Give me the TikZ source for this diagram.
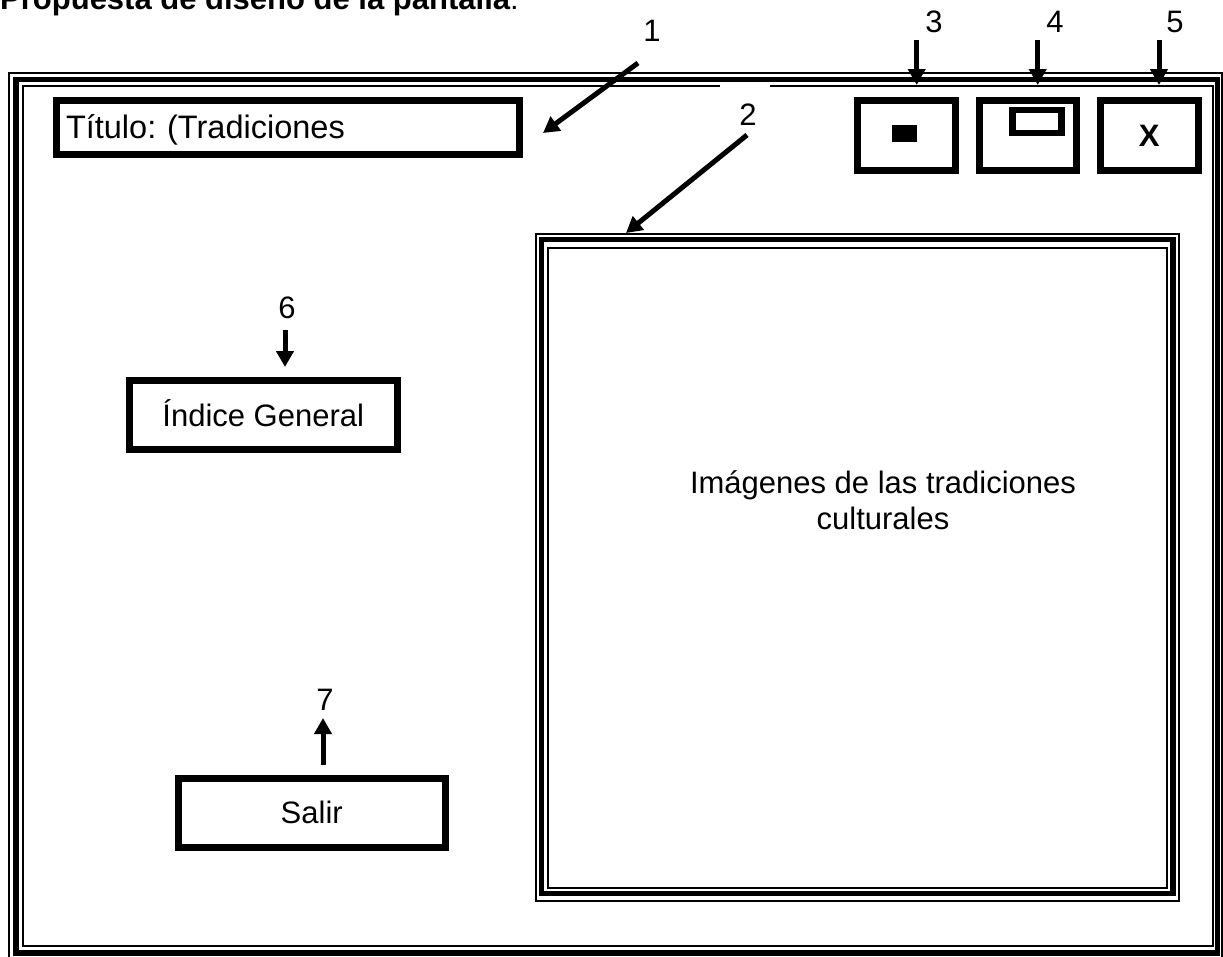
\documentclass[tikz,border=0pt]{standalone}
\usepackage{fontspec}
\setmainfont{Liberation Sans}
\usetikzlibrary{arrows.meta}
\frenchspacing
\begin{document}
\begin{tikzpicture}[x=1pt,y=-1pt,
  every node/.style={font=\fontsize{31}{35.6}\selectfont, inner sep=0pt},
  thinline/.style={line width=2pt},
  thickline/.style={line width=5.5pt},
  btn/.style={draw, rectangle, line width=7pt, text height=22pt, text depth=0pt},
  pointer/.style={line width=5pt, -{Triangle[length=16pt,width=17pt]}},
  lbl/.style={anchor=base}]
\useasboundingbox (0,0) rectangle (1223,956);
\clip (0,0) rectangle (1223,956);
\fill[white] (0,0) rectangle (1223,956);

% heading above the window
\node[anchor=base west] (heading) at (0,9.5) {\bfseries Propuesta de diseño de la pantalla\mdseries:};

% window frame: thin, thick, thin
\draw[thinline] (9,73) rectangle (1221.5,959);
\draw[thickline] (16,79.5) rectangle (1217.5,953);
\draw[thinline] (23,86) rectangle (1212.5,945.5);
\draw[white, line width=3pt] (720,86.5) -- (770,86.5);

% image panel frame
\draw[thinline] (536,234) rectangle (1179,900.5);
\draw[thickline] (541.5,239.5) rectangle (1173,893.5);
\draw[thinline] (548,247.5) rectangle (1167,888);
\node[align=center] (imgtext) at (883,500) {Imágenes de las tradiciones\\culturales};

% title bar and buttons
\node[btn, minimum width=462.5pt, minimum height=54pt, text width=443.5pt, align=left, text height=23pt, font=\fontsize{32.5}{37}\selectfont] (titlebox) at (287.75,127) {Título: (Tradiciones};
\node[btn, minimum width=97.5pt, minimum height=70pt] (minbtn) at (906.25,135) {};
\node[btn, minimum width=97pt, minimum height=70pt] (maxbtn) at (1028,135) {};
\node[btn, minimum width=98.5pt, minimum height=70pt, font=\fontsize{31}{35.6}\selectfont\bfseries] (closebtn) at (1149.25,135) {X};
\node[fill, minimum width=25pt, minimum height=17pt] (minicon) at (904.5,133.5) {};
\node[draw, line width=6.7pt, minimum width=49pt, minimum height=23pt] (maxicon) at (1037.2,121.5) {};

% menu buttons
\node[btn, minimum width=267.5pt, minimum height=69pt] (indexbtn) at (263.25,415) {Índice General};
\node[btn, minimum width=267.5pt, minimum height=69.5pt] (exitbtn) at (311.75,812.75) {Salir};

% callout numbers
\node[lbl] (n1) at (652,41) {1};
\node[lbl] (n2) at (748,125) {2};
\node[lbl] (n3) at (934,32) {3};
\node[lbl] (n4) at (1055,32) {4};
\node[lbl] (n5) at (1175,32) {5};
\node[lbl] (n6) at (287,318) {6};
\node[lbl] (n7) at (325,710) {7};

% callout arrows
\coordinate (t1) at (638,63);    \coordinate (h1) at (543,133);
\coordinate (t2) at (747,135);   \coordinate (h2) at (626,233);
\coordinate (t3) at (916.7,40);  \coordinate (h3) at (916.7,85);
\coordinate (t4) at (1037.7,40); \coordinate (h4) at (1037.7,85);
\coordinate (t5) at (1159,40);   \coordinate (h5) at (1159,85);
\coordinate (t6) at (285,330);   \coordinate (h6) at (285,367);
\coordinate (t7) at (323,765);   \coordinate (h7) at (323,718);
\foreach \i in {1,...,7} {\draw[pointer] (t\i) -- (h\i);}
\end{tikzpicture}
\end{document}
